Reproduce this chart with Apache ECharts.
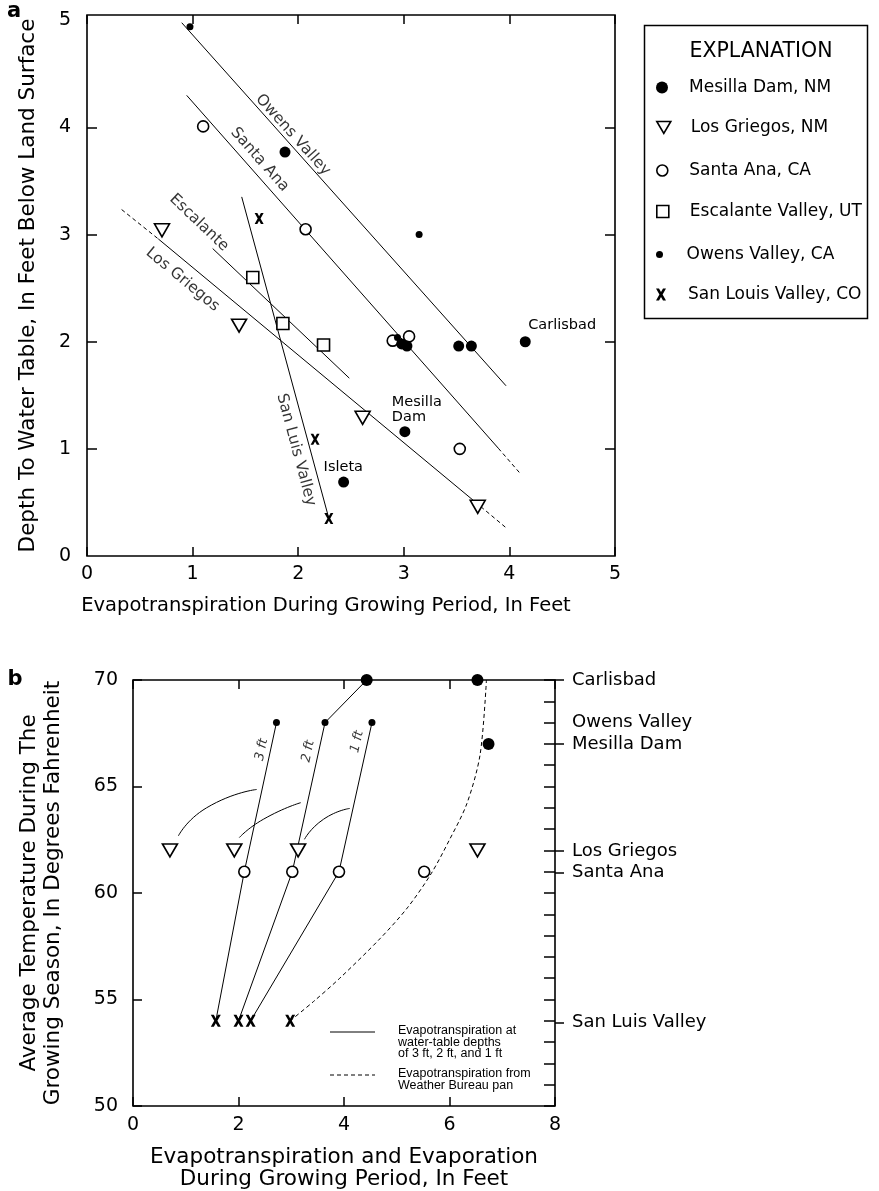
<!DOCTYPE html>
<html>
<head>
<meta charset="utf-8">
<script src="https://cdn.jsdelivr.net/npm/echarts/dist/echarts.min.js"></script>
<style>
  html, body { margin: 0; padding: 0; background: #fff; }
  #chart { width: 879px; height: 1191px; }
</style>
</head>
<body>
<div id="chart"></div>
<script>
// ---------- Panel a: depth to water table vs. evapotranspiration ----------
const siteNames = ['Mesilla Dam, NM', 'Los Griegos, NM', 'Santa Ana, CA',
                   'Escalante Valley, UT', 'Owens Valley, CA', 'San Louis Valley, CO'];

const mesillaA    = [[1.875, 3.77], [2.98, 1.98], [3.03, 1.96], [3.52, 1.96], [3.64, 1.96],
                     [4.15, 2.00], [3.01, 1.16], [2.43, 0.69]];
const mesillaTags = ['', '', '', '', '', 'Carlisbad', 'Mesilla\nDam', 'Isleta'];
const losGriegosA = [[0.71, 3.04], [1.44, 2.15], [2.61, 1.29], [3.70, 0.46]];
const santaAnaA   = [[1.10, 4.01], [2.07, 3.05], [2.895, 2.01], [3.05, 2.05], [3.53, 1.00]];
const escalanteA  = [[1.57, 2.60], [1.855, 2.17], [2.24, 1.97]];
const owensA      = [[0.975, 4.94], [3.145, 3.00], [2.94, 2.04]];
const sanLuisA    = [[1.63, 3.15], [2.16, 1.09], [2.29, 0.35]];

// fitted lines (solid) and their dashed extensions
const owensFit        = [[0.897, 4.978], [3.968, 1.589]];
const santaAnaFit     = [[0.944, 4.30], [3.895, 1.006]];
const santaAnaExt     = [[3.895, 1.006], [4.10, 0.773]];
const escalanteFit    = [[1.19, 2.87], [2.484, 1.66]];
const losGriegosFit   = [[0.675, 2.96], [3.627, 0.545]];
const losGriegosExtUp = [[0.328, 3.234], [0.675, 2.96]];
const losGriegosExtDn = [[3.627, 0.545], [3.974, 0.259]];
const sanLuisFit      = [[1.465, 3.352], [2.29, 0.352]];

const fitNames = ['Owens Valley', 'Santa Ana', 'Escalante', 'Los Griegos', 'San Luis Valley'];

const xTicksA = [0, 1, 2, 3, 4, 5];
const yTicksA = [0, 1, 2, 3, 4, 5];

// ---------- Panel b: temperature vs. evapotranspiration ----------
const bLargeDots  = [[4.43, 70], [6.53, 70], [6.74, 67]];
const bSmallDots  = [[2.72, 68], [3.64, 68], [4.53, 68]];
const bTriangles  = [[0.70, 62], [1.92, 62], [3.13, 62], [6.53, 62]];
const bCircles    = [[2.11, 61], [3.02, 61], [3.905, 61], [5.52, 61]];
const bCrosses    = [[1.57, 54], [2.00, 54], [2.23, 54], [2.98, 54]];

const depth3ft = [[1.57, 54], [2.11, 61], [2.72, 68]];
const depth2ft = [[2.00, 54], [3.02, 61], [3.64, 68], [4.43, 70]];
const depth1ft = [[2.23, 54], [3.905, 61], [4.53, 68]];
const panCurve = [[2.98, 54], [3.42, 54.9], [3.92, 56.0], [4.68, 57.85], [5.2, 59.3],
                  [5.65, 60.9], [6.0, 62.5], [6.33, 64.2], [6.58, 66.5], [6.70, 70]];
const leader1 = [[0.86, 62.68], [1.395, 64.0], [2.345, 64.86]];
const leader2 = [[2.015, 62.6], [2.47, 63.46], [3.18, 64.24]];
const leader3 = [[3.25, 62.52], [3.61, 63.46], [4.11, 63.97]];
const depthNames = ['3 ft', '2 ft', '1 ft'];

const siteTempValues = [70, 68, 67, 62, 61, 54];
const siteTempNames  = ['Carlisbad', 'Owens Valley', 'Mesilla Dam', 'Los Griegos', 'Santa Ana', 'San Luis Valley'];
const siteTempTicks  = [70, 67, 62, 61, 54];

// ---------- drawing ----------
const FONT = 'DejaVu Sans';
const INK = '#000';
const X_MARK = 'path://M0,0 L3,0 L5,3.6 L7,0 L10,0 L6.6,6 L10,12 L7,12 L5,8.4 L3,12 L0,12 L3.4,6 Z';
const TRI_DOWN = 'path://M0,0 L14,0 L7,12 Z';
const SQUARE = 'path://M0,0 L12,0 L12,12 L0,12 Z';

const filled = { color: INK, borderWidth: 0, opacity: 1 };
const hollow = { color: '#fff', borderColor: INK, borderWidth: 1.6, opacity: 1 };
const crossStyle = { color: INK, borderWidth: 0, opacity: 1 };

function lineSeries(data, gi, dashed, smooth) {
  return {
    type: 'line', data: data, xAxisIndex: gi * 2, yAxisIndex: gi === 0 ? 0 : 2,
    symbol: 'none', silent: true, smooth: smooth || false, z: 2,
    lineStyle: { color: INK, width: 1, type: dashed ? [4, 3] : 'solid', opacity: 1 }
  };
}

function scatterSeries(name, data, gi, symbol, size, style, z) {
  return {
    type: 'scatter', name: name, data: data,
    xAxisIndex: gi * 2, yAxisIndex: gi === 0 ? 0 : 2,
    symbol: symbol, symbolSize: size, itemStyle: style, z: z || 5, silent: true
  };
}

const series = [];
// fitted lines, panel a
[owensFit, santaAnaFit, escalanteFit, losGriegosFit, sanLuisFit].forEach(d => series.push(lineSeries(d, 0, false)));
[santaAnaExt, losGriegosExtUp, losGriegosExtDn].forEach(d => series.push(lineSeries(d, 0, true)));

// points, panel a
const mesillaSeries = scatterSeries(siteNames[0], mesillaA.map((p, i) => ({
  value: p, name: mesillaTags[i]
})), 0, 'circle', 11, filled, 6);
mesillaSeries.label = {
  show: true, formatter: '{b}', position: 'top', align: 'left',
  fontFamily: FONT, fontSize: 14.5, color: INK, lineHeight: 15
};
mesillaSeries.labelLayout = function (params) {
  const i = params.dataIndex;
  if (i === 5) return { dx: 3, dy: 1 };
  if (i === 6) return { dx: -13, dy: 4 };
  if (i === 7) return { dx: -20, dy: 3 };
  return {};
};
series.push(mesillaSeries);
series.push(scatterSeries(siteNames[1], losGriegosA, 0, TRI_DOWN, [15, 13], hollow));
series.push(scatterSeries(siteNames[2], santaAnaA, 0, 'circle', 11, hollow));
series.push(scatterSeries(siteNames[3], escalanteA, 0, SQUARE, 12, hollow));
series.push(scatterSeries(siteNames[4], owensA, 0, 'circle', 7, filled, 7));
series.push(scatterSeries(siteNames[5], sanLuisA, 0, X_MARK, [9, 11], crossStyle));

// names written along the fitted lines (anchor point in data units, angle in degrees)
const fitNameSpots = [[1.95, 3.93, -48], [1.635, 3.70, -48.5], [1.06, 3.11, -43.6],
                      [0.905, 2.58, -39.7], [1.98, 0.99, -75]];
series.push({
  type: 'scatter', xAxisIndex: 0, yAxisIndex: 0, silent: true, symbolSize: 1,
  itemStyle: { color: 'rgba(0,0,0,0)' }, z: 8,
  data: fitNames.map((n, i) => ({
    name: n, value: [fitNameSpots[i][0], fitNameSpots[i][1]],
    label: { rotate: fitNameSpots[i][2] }
  })),
  label: { show: true, position: 'inside', formatter: '{b}', fontFamily: FONT, fontSize: 15.5, color: INK }
});

// panel b lines
[depth3ft, depth2ft, depth1ft].forEach(d => series.push(lineSeries(d, 1, false)));
series.push(lineSeries(panCurve, 1, true, 0.3));
[leader1, leader2, leader3].forEach(d => series.push(lineSeries(d, 1, false, 0.6)));

// panel b points
series.push(scatterSeries('Carlisbad / Mesilla Dam', bLargeDots, 1, 'circle', 12, filled, 6));
series.push(scatterSeries('Owens Valley', bSmallDots, 1, 'circle', 7, filled, 6));
series.push(scatterSeries('Los Griegos', bTriangles, 1, TRI_DOWN, [15, 13], hollow));
series.push(scatterSeries('Santa Ana', bCircles, 1, 'circle', 11, hollow));
series.push(scatterSeries('San Luis Valley', bCrosses, 1, X_MARK, [10, 12], crossStyle));

// depth labels along the panel b lines
const depthSpots = [[2.44, 66.73, 78], [3.32, 66.65, 78], [4.25, 67.1, 77]];
series.push({
  type: 'scatter', xAxisIndex: 2, yAxisIndex: 2, silent: true, symbolSize: 1,
  itemStyle: { color: 'rgba(0,0,0,0)' }, z: 8,
  data: depthNames.map((n, i) => ({
    name: n, value: [depthSpots[i][0], depthSpots[i][1]],
    label: { rotate: depthSpots[i][2] }
  })),
  label: { show: true, position: 'inside', formatter: '{b}', fontFamily: FONT,
           fontStyle: 'italic', fontSize: 13, color: INK }
});

// legend rows (one legend each so the icon sizes can differ)
const legendRowY = [89, 129, 172, 213, 256, 296];
const legendIconH = [12, 12, 11, 12, 7, 12];
const legends = siteNames.map((n, i) => ({
  data: [n], left: 656, top: legendRowY[i] - 10, itemWidth: 26, itemHeight: legendIconH[i],
  selectedMode: false, padding: 0,
  itemStyle: { borderWidth: 'inherit' },
  textStyle: { fontFamily: FONT, fontSize: 17, color: INK, padding: [0, 0, 0, 9] }
}));

const tickLab = { fontFamily: FONT, fontSize: 19, color: INK };
const noLine = { show: false, onZero: false };
const tickStyle = { color: INK, width: 1.5 };

const option = {
  animation: false,
  backgroundColor: '#fff',
  grid: [
    { left: 87, top: 15, width: 528, height: 541, show: true, borderColor: INK, borderWidth: 1.6, backgroundColor: 'transparent' },
    { left: 133, top: 680, width: 422, height: 428, show: true, borderColor: INK, borderWidth: 1.6, backgroundColor: 'transparent' },
    { left: 133, top: 680, width: 422, height: 428, show: false }
  ],
  xAxis: [
    { gridIndex: 0, type: 'value', position: 'bottom', min: 0, max: 5, interval: 1,
      axisLine: noLine, splitLine: { show: false },
      axisTick: { inside: true, length: 9, lineStyle: tickStyle },
      axisLabel: { ...tickLab, margin: 9, customValues: xTicksA },
      name: 'Evapotranspiration During Growing Period, In Feet', nameLocation: 'middle', nameGap: 40,
      nameTextStyle: { fontFamily: FONT, fontSize: 19.5, color: INK, padding: [0, 50, 0, 0] } },
    { gridIndex: 0, type: 'value', position: 'top', min: 0, max: 5, interval: 1,
      axisLine: noLine, splitLine: { show: false },
      axisTick: { inside: true, length: 9, lineStyle: tickStyle },
      axisLabel: { show: false } },
    { gridIndex: 1, type: 'value', position: 'bottom', min: 0, max: 8, interval: 2,
      axisLine: noLine, splitLine: { show: false },
      axisTick: { inside: true, length: 9, lineStyle: tickStyle },
      axisLabel: { ...tickLab, margin: 10 },
      name: 'Evapotranspiration and Evaporation\nDuring Growing Period, In Feet', nameLocation: 'middle', nameGap: 40,
      nameTextStyle: { fontFamily: FONT, fontSize: 21.5, color: INK, lineHeight: 22 } },
    { gridIndex: 1, type: 'value', position: 'top', min: 0, max: 8, interval: 2,
      axisLine: noLine, splitLine: { show: false },
      axisTick: { inside: true, length: 9, lineStyle: tickStyle },
      axisLabel: { show: false } },
    { gridIndex: 2, type: 'value', min: 0, max: 8, show: false, axisLine: noLine }
  ],
  yAxis: [
    { gridIndex: 0, type: 'value', position: 'left', min: 0, max: 5.05, interval: 1,
      axisLine: noLine, splitLine: { show: false },
      axisTick: { inside: true, length: 10, lineStyle: tickStyle, customValues: [1, 2, 3, 4] },
      axisLabel: { ...tickLab, margin: 16, customValues: yTicksA },
      name: 'Depth To Water Table, In Feet Below Land Surface', nameLocation: 'middle', nameRotate: 90, nameGap: 48,
      nameTextStyle: { fontFamily: FONT, fontSize: 21.5, color: INK } },
    { gridIndex: 0, type: 'value', position: 'right', min: 0, max: 5.05, interval: 1,
      axisLine: noLine, splitLine: { show: false },
      axisTick: { inside: true, length: 10, lineStyle: tickStyle, customValues: [1, 2, 3, 4] },
      axisLabel: { show: false } },
    { gridIndex: 1, type: 'value', position: 'left', min: 50, max: 70, interval: 5,
      axisLine: noLine, splitLine: { show: false },
      axisTick: { inside: true, length: 9, lineStyle: tickStyle },
      axisLabel: { ...tickLab, margin: 15 },
      name: 'Average Temperature During The\nGrowing Season, In Degrees Fahrenheit', nameLocation: 'middle', nameRotate: 90, nameGap: 68,
      nameTextStyle: { fontFamily: FONT, fontSize: 21.5, color: INK, lineHeight: 24 } },
    { gridIndex: 1, type: 'value', position: 'right', min: 50, max: 70, interval: 1,
      axisLine: noLine, splitLine: { show: false },
      axisTick: { inside: true, length: 11, lineStyle: tickStyle },
      axisLabel: { show: false } },
    { gridIndex: 2, type: 'value', position: 'right', min: 50, max: 70, interval: 1,
      axisLine: noLine, splitLine: { show: false },
      axisTick: { inside: false, length: 9, lineStyle: tickStyle, customValues: siteTempTicks },
      axisLabel: { fontFamily: FONT, fontSize: 18, color: INK, margin: 17, customValues: siteTempValues,
                   formatter: v => siteTempNames[siteTempValues.indexOf(v)] || '' } }
  ],
  legend: legends,
  graphic: [
    { type: 'rect', left: 642, top: 23, shape: { width: 223, height: 293 },
      style: { fill: 'none', stroke: INK, lineWidth: 1.5 } },
    { type: 'text', x: 761, y: 52, style: { text: 'EXPLANATION', font: '20.5px ' + FONT, fill: INK,
      textAlign: 'center', textVerticalAlign: 'middle' } },
    { type: 'text', x: 14, y: 12, style: { text: 'a', font: 'bold 21px ' + FONT, fill: INK,
      textAlign: 'center', textVerticalAlign: 'middle' } },
    { type: 'text', x: 15, y: 680, style: { text: 'b', font: 'bold 21px ' + FONT, fill: INK,
      textAlign: 'center', textVerticalAlign: 'middle' } },
    { type: 'line', shape: { x1: 330, y1: 1032, x2: 375, y2: 1032 }, style: { stroke: INK, lineWidth: 1 } },
    { type: 'text', x: 398, y: 1025, style: { text: 'Evapotranspiration at\nwater-table depths\nof 3 ft, 2 ft, and 1 ft',
      font: '12.5px "Liberation Sans"', lineHeight: 11.5, fill: INK, textVerticalAlign: 'top' } },
    { type: 'line', shape: { x1: 330, y1: 1075, x2: 375, y2: 1075 }, style: { stroke: INK, lineWidth: 1, lineDash: [4, 3] } },
    { type: 'text', x: 398, y: 1068, style: { text: 'Evapotranspiration from\nWeather Bureau pan',
      font: '12.5px "Liberation Sans"', lineHeight: 11.5, fill: INK, textVerticalAlign: 'top' } }
  ],
  series: series
};

const chart = echarts.init(document.getElementById('chart'), null, { renderer: 'canvas' });
chart.setOption(option);
</script>
</body>
</html>
